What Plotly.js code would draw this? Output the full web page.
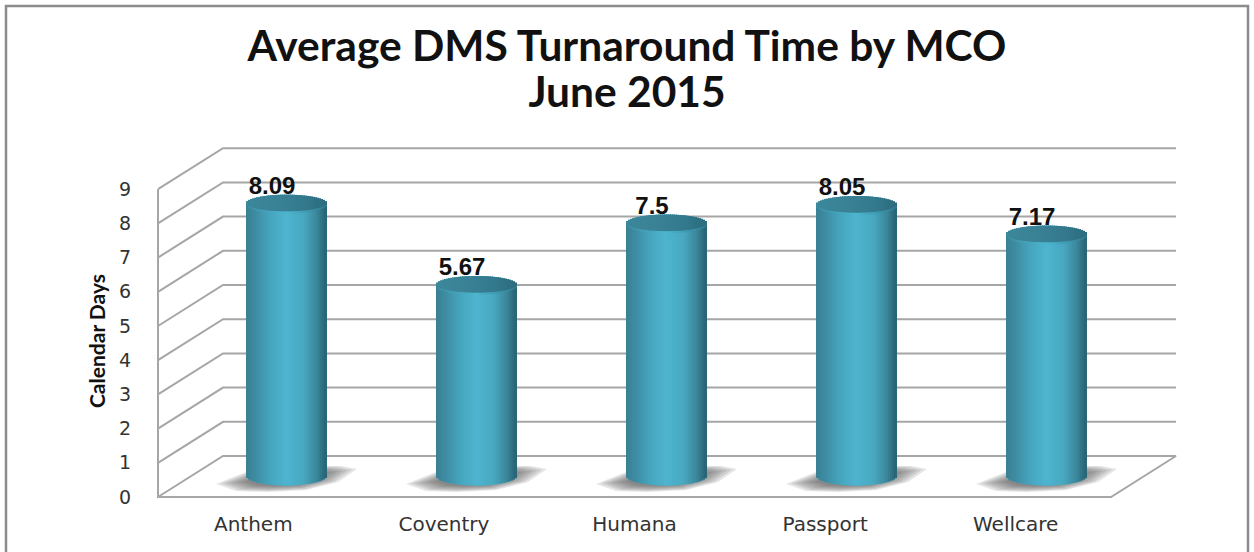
<!DOCTYPE html>
<html><head><meta charset="utf-8">
<script src="https://cdn.plot.ly/plotly-3.0.1.min.js"></script>
<style>html,body{margin:0;padding:0;background:#fff;overflow:hidden}#c{width:1254px;height:552px}</style>
</head><body><div id="c"></div>
<script>
const categories = ["Anthem","Coventry","Humana","Passport","Wellcare"];
const turnaround = [8.09,5.67,7.5,8.05,7.17];
const valueLabels = ["8.09","5.67","7.5","8.05","7.17"];
const yTicks = [0,1,2,3,4,5,6,7,8,9];

// canvas geometry, px
const W=1254,H=552,CAT=190.6,FX0=158,Y0=497,YS=34.2,DX=65,DY=41,TOP=130;
const BX0=286,BCAT=190,BY0=476,BYS=33.6,R=40,B=9.5;
const N=40;
const catX=p=>-0.5+(p-FX0)/CAT;
const barX=p=>(p-BX0)/BCAT;

function mix(stops,t){
  for(let i=1;i<stops.length;i++){
    if(t<=stops[i][0]){
      const a=stops[i-1],b=stops[i],f=(t-a[0])/(b[0]-a[0]);
      const c=[0,1,2].map(k=>Math.round(a[1][k]+(b[1][k]-a[1][k])*f));
      return `rgb(${c[0]},${c[1]},${c[2]})`;
    }
  }
  return 'rgb(0,0,0)';
}
const bodyStops=[[0,[58,128,148]],[0.12,[62,140,162]],[0.3,[70,165,190]],[0.5,[78,180,207]],[0.72,[72,168,193]],[0.88,[58,135,155]],[1,[38,98,116]]];
const capStops=[[0,[60,135,155]],[0.35,[58,130,150]],[0.7,[52,122,142]],[1,[44,108,126]]];
const rimStops=[[0,[60,140,160]],[0.5,[76,182,208]],[1,[50,125,145]]];

const traces=[];
const idx=categories.map((c,i)=>i);

// floor shadows (on the lower subplot, so the cylinders sit over them)
const shadowPx=[[-70,6],[-40,-6],[30,-12],[55,-12],[71,-9],[52,4],[20,12],[-20,14],[-50,13]];
[1,0.93,0.86,0.79,0.72,0.65,0.58].forEach(s=>{
  const sx=[],sy=[];
  idx.forEach(i=>{
    shadowPx.forEach(p=>{
      sx.push(catX(BX0+i*BCAT+p[0]*s));
      sy.push((Y0-(BY0+p[1]*s+2))/YS);
    });
    sx.push(null); sy.push(null);
  });
  traces.push({type:'scatter',mode:'lines',x:sx,y:sy,xaxis:'x',yaxis:'y',fill:'toself',fillcolor:'rgba(80,80,80,0.15)',line:{width:0,color:'rgba(0,0,0,0)'},hoverinfo:'skip',showlegend:false});
});

// wall grid, floor and axis
const gx=[],gy=[];
const x0=-0.5,x1=4.5,dx=DX/CAT,dy=DY/YS;
yTicks.forEach(v=>{
  if(v===0) return;
  gx.push(x0,x0+dx,x1+dx,null); gy.push(v,v+dy,v+dy,null);
});
gx.push(x0,x0,x1,x1+dx,x0+dx,x0,null); gy.push(9,0,0,dy,dy,0,null);
traces.push({type:'scatter',mode:'lines',x:gx,y:gy,xaxis:'x',yaxis:'y',line:{color:'#a6a6a6',width:2},hoverinfo:'skip',showlegend:false});

// cylinders, built as vertical strips of bars
const sw=2*R/BCAT/N;
function strip(k,color,baseFn,topFn){
  traces.push({type:'bar',x:idx,base:turnaround.map(baseFn),y:turnaround.map(v=>topFn(v)-baseFn(v)),
    xaxis:'x2',yaxis:'y2',width:sw*1.5,offset:-R/BCAT+k*sw,marker:{color:color,line:{width:0}},hoverinfo:'skip',showlegend:false});
}
for(let k=0;k<N;k++){
  const t=(k+0.5)/N,u=2*t-1,d=Math.sqrt(1-u*u);
  const e=B*d/BYS;
  strip(k,mix(bodyStops,t),v=>-e,v=>v);
}
for(let k=0;k<N;k++){
  const t=(k+0.5)/N,u=2*t-1,d=Math.sqrt(1-u*u);
  const e=B*d/BYS;
  strip(k,mix(rimStops,t),v=>v-e,v=>v+e);
}
for(let k=0;k<N;k++){
  const t=(k+0.5)/N,u=2*t-1,d=Math.sqrt(1-u*u);
  const e=(B-1.2)*d/BYS,sh=1.2/BYS;
  strip(k,mix(capStops,t),v=>v-e+sh,v=>v+e+sh);
}

// value labels
const labelShift=-14/BCAT,labelLift=0.13;
traces.push({type:'scatter',mode:'text',x:idx.map(i=>i+labelShift),y:turnaround.map(v=>v+labelLift),text:valueLabels,textposition:'top center',xaxis:'x2',yaxis:'y2',cliponaxis:false,
  textfont:{family:'"Liberation Sans",Arial,sans-serif',size:24,color:'#111',weight:700},hoverinfo:'skip',showlegend:false});

const layout={
  width:W,height:H,margin:{l:0,r:0,t:0,b:0},paper_bgcolor:'#fff',plot_bgcolor:'rgba(0,0,0,0)',showlegend:false,barmode:'overlay',
  title:{text:'<span style="font-size:42.5px">Average DMS Turnaround Time by MCO</span><br><span style="font-size:42.5px">June 2015</span>',
    x:0.5,xanchor:'center',yref:'container',y:1-61/H,yanchor:'middle',
    font:{family:'Lato,Carlito,sans-serif',size:35,color:'#111',weight:700}},
  xaxis:{domain:[0,1],range:[catX(0),catX(W)],tickvals:idx,ticktext:categories,anchor:'free',position:(H-Y0)/H,
    showgrid:false,zeroline:false,showline:false,ticks:'',ticklabelstandoff:13,
    tickfont:{family:'"DejaVu Sans",sans-serif',size:20,color:'#333'}},
  yaxis:{domain:[0,(H-TOP)/H],range:[(Y0-H)/YS,(Y0-TOP)/YS],tickvals:yTicks,anchor:'free',position:FX0/W,
    showgrid:false,zeroline:false,showline:false,ticks:'',ticklabelstandoff:27,
    tickfont:{family:'"DejaVu Sans",sans-serif',size:19,color:'#333'},
    title:{text:'Calendar Days',standoff:6,font:{family:'Lato,Carlito,sans-serif',size:21,color:'#111',weight:700}}},
  xaxis2:{overlaying:'x',domain:[0,1],range:[barX(0),barX(W)],visible:false,anchor:'y2'},
  yaxis2:{overlaying:'y',domain:[0,(H-TOP)/H],range:[(BY0-H)/BYS,(BY0-TOP)/BYS],visible:false,anchor:'x2'},
  shapes:[{type:'rect',xref:'paper',yref:'paper',x0:6/W,x1:1248/W,y0:-0.05,y1:(H-6)/H,line:{color:'#8c8c8c',width:2.5},fillcolor:'rgba(0,0,0,0)',layer:'below'}]
};
Plotly.newPlot('c',traces,layout,{displayModeBar:false,staticPlot:true});
</script></body></html>
